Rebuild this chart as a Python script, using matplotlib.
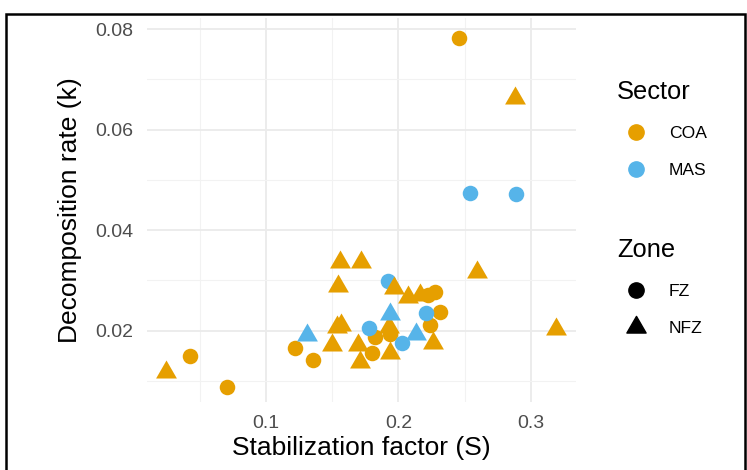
import numpy as np
import matplotlib
matplotlib.use('Agg')
import matplotlib.pyplot as plt
from matplotlib.lines import Line2D
from matplotlib.patches import Rectangle
from matplotlib.path import Path

plt.rcParams['font.family'] = ['Liberation Sans', 'DejaVu Sans']

# Values
coa_fz_x = [0.2459, 0.2275, 0.2220, 0.2313, 0.2238, 0.1936, 0.1820, 0.1800, 0.1219, 0.1352, 0.0426, 0.0703]
coa_fz_y = [0.0783, 0.0277, 0.0271, 0.0237, 0.0211, 0.0194, 0.0188, 0.0155, 0.0165, 0.0141, 0.0150, 0.0088]

mas_fz_x = [0.2540, 0.2890, 0.1923, 0.2210, 0.2024, 0.1780]
mas_fz_y = [0.0473, 0.0472, 0.0298, 0.0235, 0.0175, 0.0206]

coa_nfz_x = [0.2880, 0.2595, 0.3190, 0.1560, 0.1720, 0.1546, 0.1970, 0.2070, 0.2160,
             0.2263, 0.1930, 0.1936, 0.1697, 0.1710, 0.1534, 0.1570, 0.1496, 0.0245]
coa_nfz_y = [0.0662, 0.0317, 0.0204, 0.0337, 0.0337, 0.0289, 0.0284, 0.0267, 0.0270,
             0.0175, 0.0208, 0.0155, 0.0171, 0.0138, 0.0208, 0.0211, 0.0171, 0.0118]

mas_nfz_x = [0.1936, 0.2130, 0.1307]
mas_nfz_y = [0.0234, 0.0194, 0.0191]

sectors = ['COA', 'MAS']
zones = ['FZ', 'NFZ']
sector_colors = {'COA': '#E69F00', 'MAS': '#56B4E9'}

# equilateral triangle like ggplot shape 17
tri = Path([(0, 1), (-0.866, -0.5), (0.866, -0.5), (0, 1)],
           [Path.MOVETO, Path.LINETO, Path.LINETO, Path.CLOSEPOLY])
zone_markers = {'FZ': 'o', 'NFZ': tri}
zone_sizes = {'FZ': 125, 'NFZ': 300}

W, H = 747, 470
fig = plt.figure(figsize=(W / 100, H / 100), dpi=100)
ax = fig.add_axes([147 / W, 1 - 402 / H, (576 - 147) / W, (402 - 18) / H])

groups = [
    ('COA', 'FZ', coa_fz_x, coa_fz_y),
    ('MAS', 'FZ', mas_fz_x, mas_fz_y),
    ('COA', 'NFZ', coa_nfz_x, coa_nfz_y),
    ('MAS', 'NFZ', mas_nfz_x, mas_nfz_y),
]
for sec, zn, xs, ys in groups:
    ax.scatter(xs, ys, s=zone_sizes[zn], marker=zone_markers[zn],
               color=sector_colors[sec], linewidths=0, zorder=3)

ax.set_xlim(0.0102, 0.334)
ax.set_ylim(0.0058, 0.0822)
ax.set_xticks([0.1, 0.2, 0.3])
ax.set_xticklabels(['0.1', '0.2', '0.3'])
ax.set_xticks([0.05, 0.15, 0.25], minor=True)
ax.set_yticks([0.02, 0.04, 0.06, 0.08])
ax.set_yticklabels(['0.02', '0.04', '0.06', '0.08'])
ax.set_yticks([0.01, 0.03, 0.05, 0.07], minor=True)

ax.grid(which='major', color='#EBEBEB', linewidth=1.3, zorder=0)
ax.grid(which='minor', color='#F2F2F2', linewidth=0.8, zorder=0)
ax.set_axisbelow(True)
for sp in ax.spines.values():
    sp.set_visible(False)
ax.tick_params(which='both', length=0, colors='#4D4D4D', labelsize=14)
ax.tick_params(axis='x', pad=9)
ax.tick_params(axis='y', pad=10)

ax.set_xlabel('Stabilization factor (S)', fontsize=19, labelpad=3)
ax.set_ylabel('Decomposition rate (k)', fontsize=19, labelpad=9)

# legends
leg_kw = dict(loc='upper left', frameon=False, fontsize=12.6, title_fontsize=18.4,
              alignment='left', handletextpad=0.75, labelspacing=1.25,
              handlelength=2.2, borderpad=0, borderaxespad=0)
sec_handles = [Line2D([], [], marker='o', linestyle='', color=sector_colors[s],
                      markersize=11) for s in sectors]
fig.legend(sec_handles, sectors, title='Sector',
           bbox_to_anchor=(617 / W, 1 - 80 / H), **leg_kw)
zone_handles = [Line2D([], [], marker='o', linestyle='', color='black', markersize=11),
                Line2D([], [], marker=tri, linestyle='', color='black', markersize=16)]
fig.legend(zone_handles, zones, title='Zone',
           bbox_to_anchor=(617 / W, 1 - 238 / H), **leg_kw)

# black frame of the screenshot
fig.patches.append(Rectangle((6 / W, -0.05), (745 - 6) / W, 1 - 14 / H + 0.05,
                             transform=fig.transFigure, fill=False,
                             edgecolor='black', linewidth=1.8))

fig.savefig('out.png', dpi=100)
plt.close(fig)
